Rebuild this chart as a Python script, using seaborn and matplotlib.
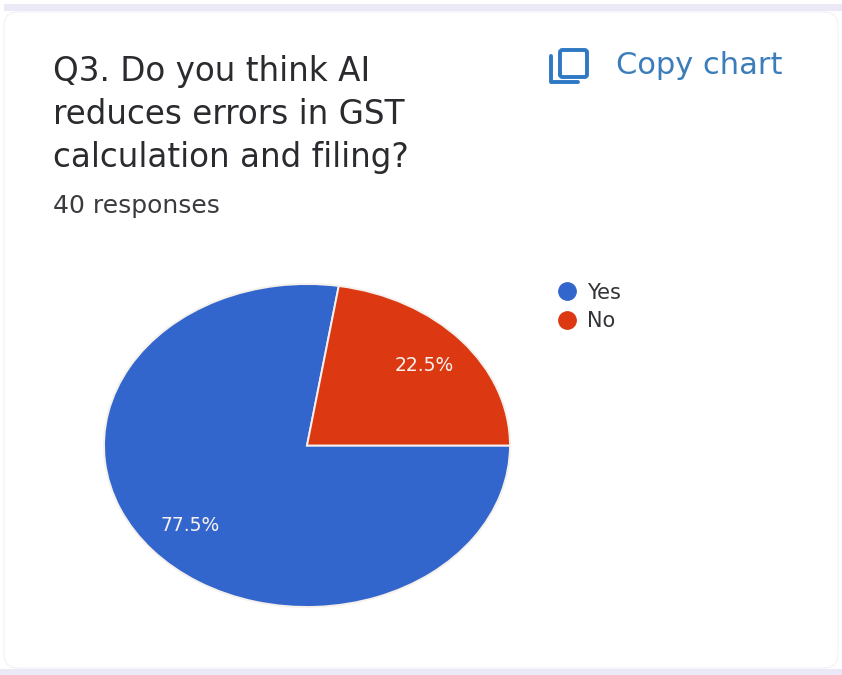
import matplotlib
matplotlib.use("Agg")
import matplotlib.pyplot as plt
from matplotlib.lines import Line2D
from matplotlib.patches import FancyBboxPatch, Rectangle
import seaborn as sns

categories = ["Yes", "No"]
shares = [77.5, 22.5]
slice_colors = ["#3366CC", "#DC3912"]
title_lines = ["Q3. Do you think AI", "reduces errors in GST", "calculation and filing?"]
subtitle = "40 responses"
copy_label = "Copy chart"

W, H = 842, 675
sns.set_theme(style="white")
plt.rcParams["font.family"] = ["DejaVu Sans"]

fig = plt.figure(figsize=(W / 100, H / 100), dpi=100, facecolor="white")

# Page layer in pixel coordinates, y pointing down
page = fig.add_axes([0, 0, 1, 1])
page.set_xlim(0, W)
page.set_ylim(H, 0)
page.axis("off")
page.add_patch(Rectangle((4, 4), W - 4, 7, fc="#ECE9F6", ec="none"))
page.add_patch(Rectangle((0, 669), W, 6, fc="#ECE9F6", ec="none"))
page.add_patch(FancyBboxPatch((18, 26), W - 36, 628,
                              boxstyle="round,pad=14,rounding_size=14",
                              fc="white", ec="#F1F1F5", lw=0.8))

for text, y in zip(title_lines, (71, 114, 157)):
    page.text(53, y, text, fontsize=23.5, color="#2A2B2E", va="center", ha="left")
page.text(53, 206, subtitle, fontsize=18, color="#3A3B3F", va="center", ha="left")

# Copy icon: front square and the L-shaped edge behind it
blue = "#2E78C4"
page.add_patch(FancyBboxPatch((560, 50), 27, 27, boxstyle="round,pad=0,rounding_size=2.5",
                              fc="none", ec=blue, lw=2.8))
page.plot([551, 551, 578], [56, 82, 82], color=blue, lw=2.8, solid_capstyle="round",
          solid_joinstyle="round")
page.text(616, 65, copy_label, fontsize=22, color="#3B7DBB", va="center", ha="left")

# The pie is stretched wider than tall, so the axes keep a free aspect
left, right, top, bottom = 104, 510, 284, 607
ax = fig.add_axes([left / W, 1 - bottom / H, (right - left) / W, (bottom - top) / H])
ax.patch.set_alpha(0)
wedges, _, autotexts = ax.pie(
    shares, colors=slice_colors, startangle=0, counterclock=False, radius=1,
    autopct="%.1f%%", pctdistance=0.76,
    wedgeprops={"edgecolor": "#F5F0EC", "linewidth": 1.4},
    textprops={"fontsize": 13.5, "color": "#F6F2EE"},
)
ax.set_aspect("auto")
ax.set_xlim(-1, 1)
ax.set_ylim(-1, 1)

handles = [Line2D([], [], ls="none", marker="o", ms=12.5, mfc=c, mec=c) for c in slice_colors]
fig.legend(handles, categories, loc="upper left", bbox_to_anchor=(537 / W, 1 - 266 / H),
           frameon=False, fontsize=15, labelcolor="#333438", labelspacing=0.42,
           handletextpad=0.3, borderpad=0.3, handlelength=1.3)

fig.savefig("out.png", dpi=100)
